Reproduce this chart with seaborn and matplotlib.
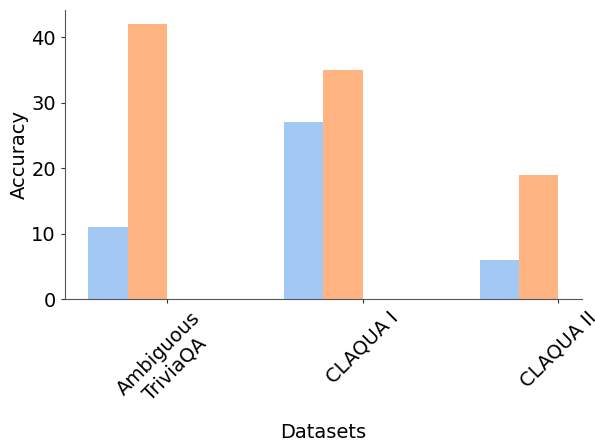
import pandas as pd
import seaborn as sns
import matplotlib.pyplot as plt

datasets = ["Ambiguous\nTriviaQA", "CLAQUA I", "CLAQUA II"]
methods = ["m1", "m2", "m3", "m4"]
m1_acc = [11, 27, 6]
m2_acc = [42, 35, 19]

df = pd.DataFrame({
    "Datasets": datasets * 2,
    "Method": ["m1"] * 3 + ["m2"] * 3,
    "Accuracy": m1_acc + m2_acc,
})

fig, ax = plt.subplots(figsize=(5.95, 4.42), dpi=100)
sns.barplot(data=df, x="Datasets", y="Accuracy", hue="Method", hue_order=methods,
            palette="pastel", legend=False, saturation=1, ax=ax)
sns.despine()
for s in ["left", "bottom"]:
    ax.spines[s].set_color("#555555")
ax.tick_params(labelsize=14, length=3, color="#333333")
ax.set_xlabel("Datasets", fontsize=14, labelpad=6)
ax.set_ylabel("Accuracy", fontsize=14, labelpad=2)
plt.setp(ax.get_xticklabels(), rotation=45)
ax.set_xlim(-0.52, 2.12)
ax.set_ylim(0, 44.1)
plt.subplots_adjust(left=0.109, right=0.978, bottom=0.323, top=0.977)
plt.savefig("out.png")
